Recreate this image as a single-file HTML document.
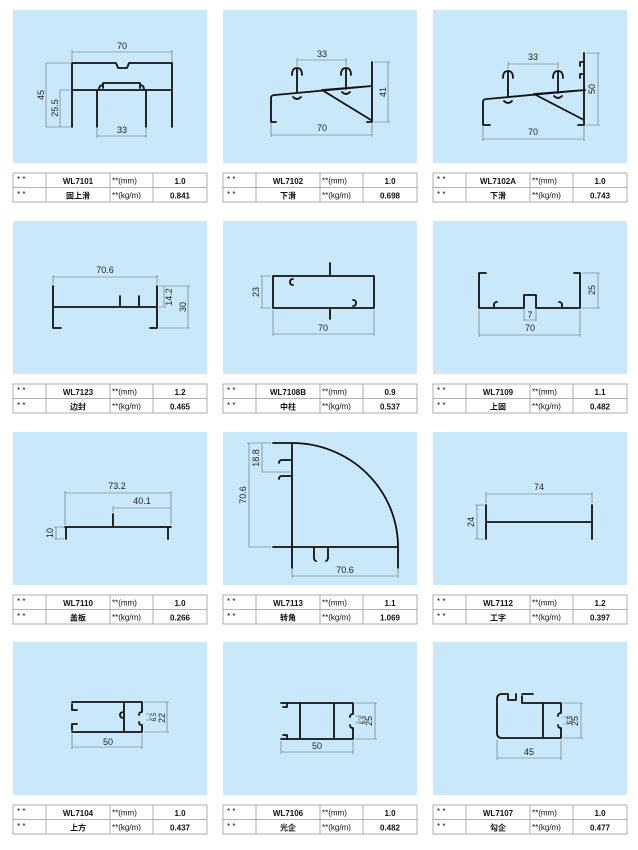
<!DOCTYPE html>
<html><head><meta charset="utf-8"><style>
html,body{margin:0;padding:0;background:#fff;}
svg{display:block;}
.p{fill:#c9e9fb;}
.s{fill:none;stroke:#111;stroke-width:1.8;stroke-linejoin:round;stroke-linecap:round;}
.d{fill:none;stroke:#666;stroke-width:0.6;}
.t{font-family:"Liberation Sans",sans-serif;font-size:9px;fill:#222;text-anchor:middle;}
.tb rect{fill:#fff;stroke:#999;stroke-width:0.8;}
.tb line{stroke:#999;stroke-width:0.8;}
.tb text{font-family:"Liberation Sans","Noto Sans CJK SC",sans-serif;font-size:8px;fill:#111;}
.c{text-anchor:middle;font-weight:bold;}
</style></head><body>
<svg width="638" height="850" viewBox="0 0 638 850" xmlns="http://www.w3.org/2000/svg">
<!-- panels -->
<rect class="p" x="13" y="10" width="194" height="153"/>
<rect class="p" x="223" y="10" width="194" height="153"/>
<rect class="p" x="433" y="10" width="194" height="153"/>
<rect class="p" x="13" y="221" width="194" height="153"/>
<rect class="p" x="223" y="221" width="194" height="153"/>
<rect class="p" x="433" y="221" width="194" height="153"/>
<rect class="p" x="13" y="432" width="194" height="153"/>
<rect class="p" x="223" y="432" width="194" height="153"/>
<rect class="p" x="433" y="432" width="194" height="153"/>
<rect class="p" x="13" y="642" width="194" height="153"/>
<rect class="p" x="223" y="642" width="194" height="153"/>
<rect class="p" x="433" y="642" width="194" height="153"/>

<!-- P1 WL7101 -->
<path class="s" d="M72,127 V63 H116 L118,68 H127 L129,63 H172 V127 M72,90 H172 M97,90 V127 M146,90 V127 M103,88 V83 H140 V88 M99,90 q0,-5 4,-5 M144,90 q0,-5 -4,-5"/>
<path class="d" d="M72,63 V50 M172,63 V50 M72,52 H172 M46,63 H72 M46,127 H72 M46,63 V127 M60,90 H72 M60,127 H72 M60,90 V127 M97,127 V138 M146,127 V138 M97,136 H146"/>
<text class="t" x="122" y="49">70</text>
<text class="t" x="122" y="133">33</text>
<text class="t" transform="translate(44,95) rotate(-90)">45</text>
<text class="t" transform="translate(58,108) rotate(-90)">25.5</text>

<!-- P2 WL7102 -->
<path class="s" d="M276,122 H271 V98 Q271,95 275,95 L372,86 M372,62 V122 H367 M322,90 L371,120 M322,90 L372,86 M297,93 V68 M292,75 Q292,68 297,68 Q302,68 302,75 M346,89 V68 M341,75 Q341,68 346,68 Q351,68 351,75 M293,97 q4,4 8,0 M342,92 q4,4 8,0"/>
<path class="d" d="M297,66 V58 M346,66 V58 M297,60 H346 M271,122 V137 M372,122 V137 M271,135 H372 M374,62 H390 M374,122 H390 M388,62 V122"/>
<text class="t" x="322" y="57">33</text>
<text class="t" x="322" y="131">70</text>
<text class="t" transform="translate(386,92) rotate(-90)">41</text>

<!-- P3 WL7102A -->
<path class="s" d="M490,125 H483 V102 Q483,99 487,99 L585,90 M584,53 V125 H578 M534,94 L584,120 M534,94 L585,90 M508,97 V71 M503,78 Q503,71 508,71 Q513,71 513,78 M558,93 V71 M553,78 Q553,71 558,71 Q563,71 563,78 M504,101 q4,4 8,0 M554,96 q4,4 8,0 M584,62 H580 V66 M584,74 H580 V78"/>
<path class="d" d="M508,69 V62 M558,69 V62 M508,64 H558 M483,125 V141 M584,125 V141 M483,139 H584 M586,53 H600 M586,125 H600 M598,53 V125"/>
<text class="t" x="533" y="60">33</text>
<text class="t" x="533" y="135">70</text>
<text class="t" transform="translate(595,89) rotate(-90)">50</text>

<!-- P4 WL7123 -->
<path class="s" d="M61,328 H53 V286 M53,307 H157 M157,286 V328 H150 M120,296 V307 M139,296 V307"/>
<path class="d" d="M53,284 V275 M157,284 V275 M53,277 H157 M159,286 H190 M159,307 H166 M159,328 H190 M164,286 V307 M188,286 V328"/>
<text class="t" x="105" y="273">70.6</text>
<text class="t" transform="translate(172,297) rotate(-90)">14.2</text>
<text class="t" transform="translate(186,307) rotate(-90)">30</text>

<!-- P5 WL7108B -->
<path class="s" d="M273,276 H374 V308 H273 Z M330,263 V276 M330,308 V319 M293,279 q-3,0 -3,3 q0,3 3,3 M353,300 q3,0 3,3 q0,3 -3,3"/>
<path class="d" d="M271,276 H260 M271,308 H260 M262,276 V308 M273,310 V336 M374,310 V336 M273,334 H374"/>
<text class="t" transform="translate(259,292) rotate(-90)">23</text>
<text class="t" x="323" y="331">70</text>

<!-- P6 WL7109 -->
<path class="s" d="M486,273 H479 V308 H524 V295 H536 V308 H580 V273 H574 M497,302 q-3,0 -3,3 v3 M559,302 q3,0 3,3 v3"/>
<path class="d" d="M582,273 H600 M582,308 H600 M598,273 V308 M524,308 V321 M536,308 V321 M524,320 H536 M479,310 V337 M580,310 V337 M479,335 H580"/>
<text class="t" transform="translate(595,290) rotate(-90)">25</text>
<text class="t" x="530" y="318">7</text>
<text class="t" x="530" y="331">70</text>

<!-- P7 WL7110 -->
<path class="s" d="M65,527 H171 M66,527 V539 M168,527 V539 M113,514 V527"/>
<path class="d" d="M65,525 V491 M171,525 V491 M65,493 H171 M113,512 V506 M113,508 H171 M64,527 H54 M64,539 H54 M56,527 V539"/>
<text class="t" x="117" y="489">73.2</text>
<text class="t" x="142" y="504">40.1</text>
<text class="t" transform="translate(53,533) rotate(-90)">10</text>

<!-- P8 WL7113 -->
<path class="s" d="M292,443 V568 M273,443 H292 A106,104 0 0 1 398,547 V568 M273,547 H398 M279,463 q0,-3 3,-3 H292 M279,479 q0,-3 3,-3 H292 M314,547 V558 q0,2 2,3 M328,547 V558 q0,2 -2,3"/>
<path class="d" d="M271,443 H247 M262,443 V472 M262,472 H292 M249,443 V547 M249,547 H271 M292,568 V578 M398,568 V578 M292,576 H398"/>
<text class="t" transform="translate(259,458) rotate(-90)">18.8</text>
<text class="t" transform="translate(246,495) rotate(-90)">70.6</text>
<text class="t" x="345" y="573">70.6</text>

<!-- P9 WL7112 -->
<path class="s" d="M486,505 V539 M486,522 H592 M592,505 V539"/>
<path class="d" d="M486,503 V492 M592,503 V492 M486,494 H592 M484,505 H475 M484,539 H475 M477,505 V539"/>
<text class="t" x="539" y="490">74</text>
<text class="t" transform="translate(474,522) rotate(-90)">24</text>

<!-- P10 WL7104 -->
<path class="s" d="M77,702 H142 V712 q-3,0 -3,3 M139,722 q0,3 3,3 V732 H77 M72,704 V710 H77 M72,730 V724 H77 M72,702 H77 M72,732 H77 M124,702 V732 M124,712 q-4,0 -4,3 q0,3 4,3"/>
<path class="d" d="M144,702 H169 M144,732 H169 M167,702 V732 M146,714 H152 M146,720 H152 M150,714 V720 M72,734 V749 M142,734 V749 M72,747 H142"/>
<text class="t" transform="translate(165,718) rotate(-90)">22</text>
<text class="t" style="font-size:6px" transform="translate(156,717) rotate(-90)">6.5</text>
<text class="t" x="108" y="745">50</text>

<!-- P11 WL7106 -->
<path class="s" d="M287,703 H353 V714 q-3,0 -3,3 M350,725 q0,3 3,3 V739 H287 M281,703 H287 V707 H283 M281,739 H287 V735 H283 M300,703 V739 M334,703 V739"/>
<path class="d" d="M355,703 H377 M355,739 H377 M375,703 V739 M355,716 H361 M355,723 H361 M359,716 V723 M281,741 V754 M353,741 V754 M281,752 H353"/>
<text class="t" transform="translate(372,721) rotate(-90)">25</text>
<text class="t" style="font-size:6px" transform="translate(365,720) rotate(-90)">6.5</text>
<text class="t" x="317" y="749">50</text>

<!-- P12 WL7107 -->
<path class="s" d="M522,694 H533 M508,694 H502 Q497,694 497,699 V733 Q497,738 502,738 H561 V728 q-3,0 -3,-3 M558,716 q0,-3 3,-3 V703 H522 V696 M508,694 V700 H516 V694 M543,703 V738"/>
<path class="d" d="M563,703 H583 M563,738 H583 M581,703 V738 M563,717 H569 M563,724 H569 M567,717 V724 M497,740 V760 M561,740 V760 M497,758 H561"/>
<text class="t" transform="translate(578,721) rotate(-90)">25</text>
<text class="t" style="font-size:6px" transform="translate(572,720) rotate(-90)">6.5</text>
<text class="t" x="529" y="755">45</text>

<!-- tables -->
<g class="tb" transform="translate(13,173)"><rect x="0" y="0" width="194" height="29"/><line x1="0" y1="14.5" x2="194" y2="14.5"/><line x1="33" y1="0" x2="33" y2="29"/><line x1="97" y1="0" x2="97" y2="29"/><line x1="140" y1="0" x2="140" y2="29"/>
<text x="4" y="9">* *</text><text x="4" y="24">* *</text><text class="c" x="65" y="11">WL7101</text><text class="c" x="65" y="25.5">固上滑</text><text x="99" y="10.5">**(mm)</text><text x="99" y="25">**(kg/m)</text><text class="c" x="167" y="11">1.0</text><text class="c" x="167" y="25.5">0.841</text></g>
<g class="tb" transform="translate(223,173)"><rect x="0" y="0" width="194" height="29"/><line x1="0" y1="14.5" x2="194" y2="14.5"/><line x1="33" y1="0" x2="33" y2="29"/><line x1="97" y1="0" x2="97" y2="29"/><line x1="140" y1="0" x2="140" y2="29"/>
<text x="4" y="9">* *</text><text x="4" y="24">* *</text><text class="c" x="65" y="11">WL7102</text><text class="c" x="65" y="25.5">下滑</text><text x="99" y="10.5">**(mm)</text><text x="99" y="25">**(kg/m)</text><text class="c" x="167" y="11">1.0</text><text class="c" x="167" y="25.5">0.698</text></g>
<g class="tb" transform="translate(433,173)"><rect x="0" y="0" width="194" height="29"/><line x1="0" y1="14.5" x2="194" y2="14.5"/><line x1="33" y1="0" x2="33" y2="29"/><line x1="97" y1="0" x2="97" y2="29"/><line x1="140" y1="0" x2="140" y2="29"/>
<text x="4" y="9">* *</text><text x="4" y="24">* *</text><text class="c" x="65" y="11">WL7102A</text><text class="c" x="65" y="25.5">下滑</text><text x="99" y="10.5">**(mm)</text><text x="99" y="25">**(kg/m)</text><text class="c" x="167" y="11">1.0</text><text class="c" x="167" y="25.5">0.743</text></g>

<g class="tb" transform="translate(13,384)"><rect x="0" y="0" width="194" height="29"/><line x1="0" y1="14.5" x2="194" y2="14.5"/><line x1="33" y1="0" x2="33" y2="29"/><line x1="97" y1="0" x2="97" y2="29"/><line x1="140" y1="0" x2="140" y2="29"/>
<text x="4" y="9">* *</text><text x="4" y="24">* *</text><text class="c" x="65" y="11">WL7123</text><text class="c" x="65" y="25.5">边封</text><text x="99" y="10.5">**(mm)</text><text x="99" y="25">**(kg/m)</text><text class="c" x="167" y="11">1.2</text><text class="c" x="167" y="25.5">0.465</text></g>
<g class="tb" transform="translate(223,384)"><rect x="0" y="0" width="194" height="29"/><line x1="0" y1="14.5" x2="194" y2="14.5"/><line x1="33" y1="0" x2="33" y2="29"/><line x1="97" y1="0" x2="97" y2="29"/><line x1="140" y1="0" x2="140" y2="29"/>
<text x="4" y="9">* *</text><text x="4" y="24">* *</text><text class="c" x="65" y="11">WL7108B</text><text class="c" x="65" y="25.5">中柱</text><text x="99" y="10.5">**(mm)</text><text x="99" y="25">**(kg/m)</text><text class="c" x="167" y="11">0.9</text><text class="c" x="167" y="25.5">0.537</text></g>
<g class="tb" transform="translate(433,384)"><rect x="0" y="0" width="194" height="29"/><line x1="0" y1="14.5" x2="194" y2="14.5"/><line x1="33" y1="0" x2="33" y2="29"/><line x1="97" y1="0" x2="97" y2="29"/><line x1="140" y1="0" x2="140" y2="29"/>
<text x="4" y="9">* *</text><text x="4" y="24">* *</text><text class="c" x="65" y="11">WL7109</text><text class="c" x="65" y="25.5">上固</text><text x="99" y="10.5">**(mm)</text><text x="99" y="25">**(kg/m)</text><text class="c" x="167" y="11">1.1</text><text class="c" x="167" y="25.5">0.482</text></g>

<g class="tb" transform="translate(13,595)"><rect x="0" y="0" width="194" height="29"/><line x1="0" y1="14.5" x2="194" y2="14.5"/><line x1="33" y1="0" x2="33" y2="29"/><line x1="97" y1="0" x2="97" y2="29"/><line x1="140" y1="0" x2="140" y2="29"/>
<text x="4" y="9">* *</text><text x="4" y="24">* *</text><text class="c" x="65" y="11">WL7110</text><text class="c" x="65" y="25.5">盖板</text><text x="99" y="10.5">**(mm)</text><text x="99" y="25">**(kg/m)</text><text class="c" x="167" y="11">1.0</text><text class="c" x="167" y="25.5">0.266</text></g>
<g class="tb" transform="translate(223,595)"><rect x="0" y="0" width="194" height="29"/><line x1="0" y1="14.5" x2="194" y2="14.5"/><line x1="33" y1="0" x2="33" y2="29"/><line x1="97" y1="0" x2="97" y2="29"/><line x1="140" y1="0" x2="140" y2="29"/>
<text x="4" y="9">* *</text><text x="4" y="24">* *</text><text class="c" x="65" y="11">WL7113</text><text class="c" x="65" y="25.5">转角</text><text x="99" y="10.5">**(mm)</text><text x="99" y="25">**(kg/m)</text><text class="c" x="167" y="11">1.1</text><text class="c" x="167" y="25.5">1.069</text></g>
<g class="tb" transform="translate(433,595)"><rect x="0" y="0" width="194" height="29"/><line x1="0" y1="14.5" x2="194" y2="14.5"/><line x1="33" y1="0" x2="33" y2="29"/><line x1="97" y1="0" x2="97" y2="29"/><line x1="140" y1="0" x2="140" y2="29"/>
<text x="4" y="9">* *</text><text x="4" y="24">* *</text><text class="c" x="65" y="11">WL7112</text><text class="c" x="65" y="25.5">工字</text><text x="99" y="10.5">**(mm)</text><text x="99" y="25">**(kg/m)</text><text class="c" x="167" y="11">1.2</text><text class="c" x="167" y="25.5">0.397</text></g>

<g class="tb" transform="translate(13,805)"><rect x="0" y="0" width="194" height="29"/><line x1="0" y1="14.5" x2="194" y2="14.5"/><line x1="33" y1="0" x2="33" y2="29"/><line x1="97" y1="0" x2="97" y2="29"/><line x1="140" y1="0" x2="140" y2="29"/>
<text x="4" y="9">* *</text><text x="4" y="24">* *</text><text class="c" x="65" y="11">WL7104</text><text class="c" x="65" y="25.5">上方</text><text x="99" y="10.5">**(mm)</text><text x="99" y="25">**(kg/m)</text><text class="c" x="167" y="11">1.0</text><text class="c" x="167" y="25.5">0.437</text></g>
<g class="tb" transform="translate(223,805)"><rect x="0" y="0" width="194" height="29"/><line x1="0" y1="14.5" x2="194" y2="14.5"/><line x1="33" y1="0" x2="33" y2="29"/><line x1="97" y1="0" x2="97" y2="29"/><line x1="140" y1="0" x2="140" y2="29"/>
<text x="4" y="9">* *</text><text x="4" y="24">* *</text><text class="c" x="65" y="11">WL7106</text><text class="c" x="65" y="25.5">光企</text><text x="99" y="10.5">**(mm)</text><text x="99" y="25">**(kg/m)</text><text class="c" x="167" y="11">1.0</text><text class="c" x="167" y="25.5">0.482</text></g>
<g class="tb" transform="translate(433,805)"><rect x="0" y="0" width="194" height="29"/><line x1="0" y1="14.5" x2="194" y2="14.5"/><line x1="33" y1="0" x2="33" y2="29"/><line x1="97" y1="0" x2="97" y2="29"/><line x1="140" y1="0" x2="140" y2="29"/>
<text x="4" y="9">* *</text><text x="4" y="24">* *</text><text class="c" x="65" y="11">WL7107</text><text class="c" x="65" y="25.5">勾企</text><text x="99" y="10.5">**(mm)</text><text x="99" y="25">**(kg/m)</text><text class="c" x="167" y="11">1.0</text><text class="c" x="167" y="25.5">0.477</text></g>
</svg>
</body></html>
